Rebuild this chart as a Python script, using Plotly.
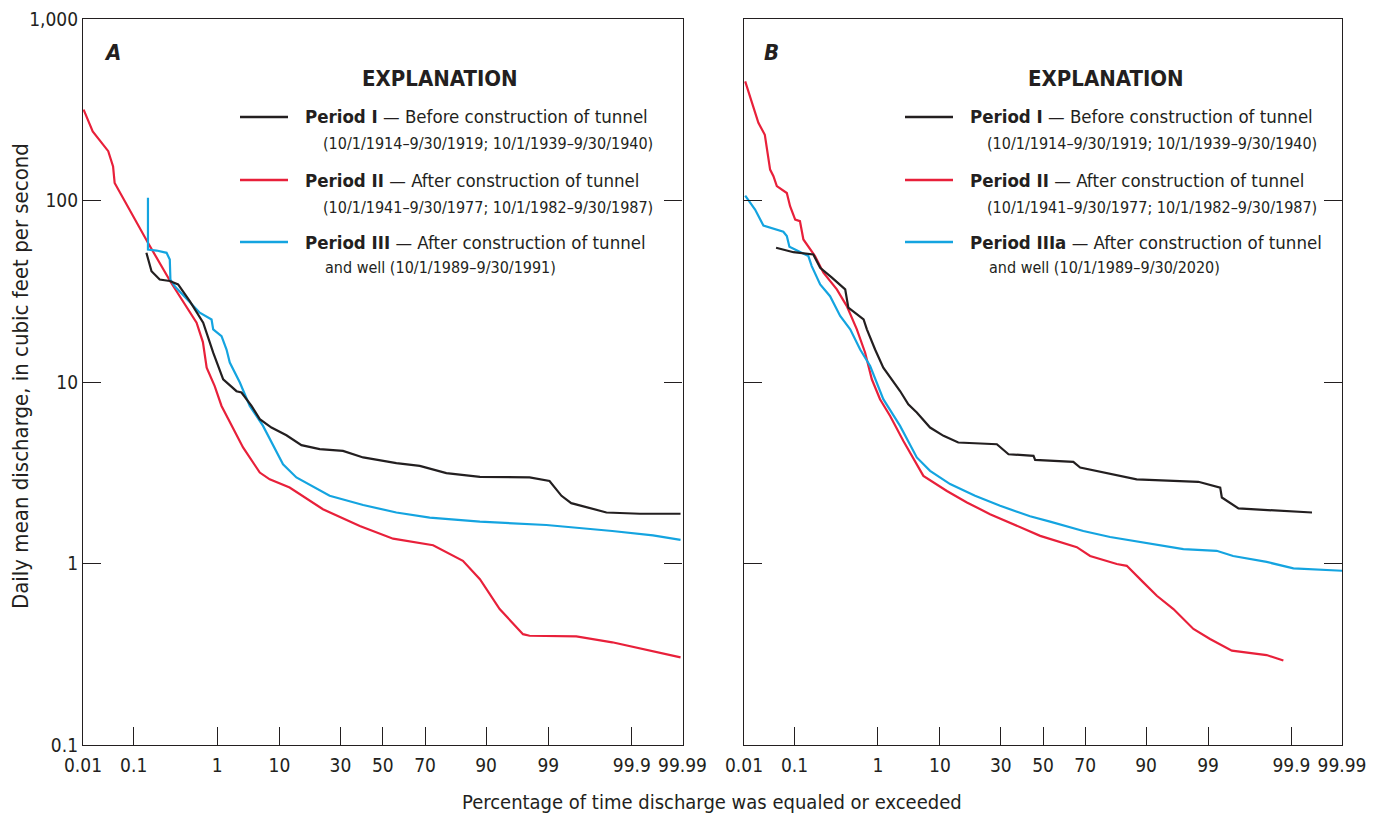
import math
import numpy as np
import plotly.graph_objects as go

# ---------------- data (exceedance percent, discharge cfs) ----------------
A_P1_PCT = [0.147, 0.171, 0.217, 0.289, 0.364, 0.498, 0.705, 0.906, 1.30, 1.72, 2.26, 2.75, 4.0, 5.35,
            7.84, 11.6, 15.65, 21.7, 31.1, 40.4, 56.7, 67.7, 78.5, 88.6, 97.79, 99.03, 99.28, 99.44,
            99.787, 99.929, 99.989]
A_P1_Q = [51.5, 40.8, 36.7, 36.0, 34.5, 27.9, 21.2, 14.5, 10.35, 9.6, 8.9, 8.75, 7.38, 6.24,
          5.61, 5.09, 4.49, 4.27, 4.17, 3.84, 3.57, 3.45, 3.15, 3.0, 2.98, 2.85, 2.36, 2.15,
          1.91, 1.88, 1.88]

A_P2_PCT = [0.0103, 0.016, 0.033, 0.041, 0.044, 0.154, 0.30, 0.595, 0.70, 0.77, 0.94, 1.21, 2.92, 5.35,
            7.42, 12.4, 22.9, 38.8, 55.1, 73.4, 84.0, 88.6, 93.45, 97.14, 97.79, 99.51, 99.82, 99.989]
A_P2_Q = [317, 240, 187, 154, 125, 58.5, 35.2, 21.2, 16.6, 12.0, 9.5, 7.38, 4.36, 3.17,
          2.91, 2.62, 1.99, 1.61, 1.37, 1.26, 1.035, 0.82, 0.561, 0.408, 0.40, 0.397, 0.368, 0.304]

A_P3_PCT = [0.154, 0.154, 0.198, 0.264, 0.289, 0.294, 0.332, 0.498, 0.646, 0.87, 0.906, 1.21, 1.50, 1.72,
            2.58, 3.75, 5.97, 10.8, 14.2, 25.5, 40.4, 56.7, 72.0, 88.6, 98.91, 99.82, 99.960, 99.989]
A_P3_Q = [103.5, 53.7, 53.0, 51.5, 47.3, 36.7, 33.7, 27.4, 24.1, 22.1, 19.5, 17.9, 15.1, 12.8,
          9.93, 7.38, 5.73, 3.52, 2.98, 2.36, 2.10, 1.91, 1.79, 1.70, 1.63, 1.51, 1.43, 1.35]

B_P1_PCT = [0.045, 0.0955, 0.176, 0.215, 0.30, 0.432, 0.47, 0.70, 0.761, 0.934, 1.27, 2.54, 3.48, 4.73,
            7.38, 10.8, 14.6, 28.3, 33.4, 45.3, 46.1, 64.7, 67.8, 78.0, 87.8, 98.47, 99.26, 99.29,
            99.54, 99.959]
B_P1_Q = [54.9, 51.9, 50.4, 42.6, 37.6, 32.4, 25.7, 22.1, 19.5, 15.1, 12.0, 8.92, 7.54, 6.79,
          5.61, 5.05, 4.64, 4.54, 4.00, 3.92, 3.72, 3.63, 3.38, 3.17, 2.91, 2.82, 2.62, 2.31,
          2.01, 1.91]

B_P2_PCT = [0.0106, 0.020, 0.027, 0.0344, 0.040, 0.0465, 0.072, 0.0828, 0.102, 0.118, 0.131, 0.152,
            0.185, 0.236, 0.344, 0.451, 0.588, 0.728, 0.861, 1.10, 1.70, 2.89, 5.93, 11.6, 17.2,
            25.5, 34.1, 48.6, 66.3, 72.1, 82.07, 85.13, 89.4, 92.83, 95.93, 97.19, 98.12, 99.046,
            99.452, 99.79, 99.872]
B_P2_Q = [453, 268, 230, 148, 136, 120, 110, 93, 78.5, 76.9, 61.0, 56.1,
          49.4, 40.0, 32.4, 26.2, 19.5, 14.5, 10.35, 8.04, 6.50, 4.73, 3.04, 2.51, 2.17,
          1.87, 1.68, 1.42, 1.23, 1.10, 0.993, 0.971, 0.787, 0.664, 0.561, 0.494, 0.436, 0.384,
          0.331, 0.313, 0.292]

B_P3_PCT = [0.0106, 0.0171, 0.0253, 0.062, 0.072, 0.0805, 0.152, 0.168, 0.215, 0.285, 0.377, 0.494,
            0.641, 0.826, 1.27, 2.54, 4.73, 7.38, 12.4, 19.9, 29.7, 43.6, 53.5, 69.2, 79.8, 89.4,
            97.19, 99.19, 99.47, 99.79, 99.908, 99.990]
B_P3_Q = [106.5, 89.1, 72.8, 67.3, 63.7, 55.6, 49.4, 43.5, 34.5, 29.7, 23.1, 19.5,
          15.1, 12.25, 8.04, 5.73, 3.84, 3.24, 2.74, 2.36, 2.08, 1.82, 1.70, 1.51, 1.40, 1.31,
          1.20, 1.175, 1.10, 1.02, 0.94, 0.912]

X_TICK_LABELS = ["0.01", "0.1", "1", "10", "30", "50", "70", "90", "99", "99.9", "99.99"]
X_TICK_VALUES = [0.01, 0.1, 1, 10, 30, 50, 70, 90, 99, 99.9, 99.99]
Y_TICK_VALUES = [0.1, 1, 10, 100, 1000]
Y_TICK_LABELS = ["0.1", "1", "10", "100", "1,000"]

# ---------------- probability scale ----------------
def ppf(q):
    lo, hi = -12.0, 12.0
    for _ in range(90):
        mid = 0.5 * (lo + hi)
        if 0.5 * (1 + math.erf(mid / math.sqrt(2))) < q:
            lo = mid
        else:
            hi = mid
    return 0.5 * (lo + hi)

# where the labelled ticks sit on the printed probability axis
TICK_AXIS_POS = [0.01, 0.1, 2, 10, 30, 50, 70, 90, 98, 99.9, 99.99]
TRUE_Z = np.array([ppf(v / 100) for v in X_TICK_VALUES])
DRAWN_Z = np.array([ppf(v / 100) for v in TICK_AXIS_POS])

def xs(pcts):
    z = np.array([ppf(p / 100) for p in pcts])
    return np.interp(z, TRUE_Z, DRAWN_Z)

# ---------------- figure ----------------
W, H = 1385, 816
BLACK = "#231f20"
RED = "#e8203a"
BLUE = "#14a4e0"
FONT = "DejaVu Sans Condensed, Liberation Sans Narrow, sans-serif"

fig = go.Figure()
for (px, q, col, xa) in [
    (A_P2_PCT, A_P2_Q, RED, "x"), (A_P3_PCT, A_P3_Q, BLUE, "x"), (A_P1_PCT, A_P1_Q, BLACK, "x"),
    (B_P2_PCT, B_P2_Q, RED, "x2"), (B_P3_PCT, B_P3_Q, BLUE, "x2"), (B_P1_PCT, B_P1_Q, BLACK, "x2"),
]:
    fig.add_trace(go.Scatter(x=xs(px), y=q, mode="lines", line=dict(color=col, width=2.2),
                             xaxis=xa, yaxis="y" if xa == "x" else "y2", showlegend=False,
                             hoverinfo="skip"))

def px2x(p):
    return p / W

def py2y(p):
    return 1 - p / H

dom_a = [px2x(83), px2x(682.5)]
dom_b = [px2x(744), px2x(1342)]
dom_y = [py2y(745), py2y(19)]
xr = [ppf(0.0001), ppf(0.9999)]

xcommon = dict(range=xr, tickmode="array", tickvals=list(DRAWN_Z), ticktext=X_TICK_LABELS,
               ticks="inside", ticklen=18, tickwidth=1.2, tickcolor=BLACK, showline=True,
               linecolor=BLACK, linewidth=1.3, mirror=True, showgrid=False, zeroline=False,
               ticklabelstandoff=3,
               tickfont=dict(family=FONT, size=19, color=BLACK), automargin=False)
ycommon = dict(type="log", range=[-1, 3], tickmode="array", tickvals=Y_TICK_VALUES,
               ticktext=Y_TICK_LABELS, ticks="inside", ticklen=18, tickwidth=1.2, tickcolor=BLACK,
               showline=True, linecolor=BLACK, linewidth=1.3, mirror="ticks", showgrid=False,
               zeroline=False, tickfont=dict(family=FONT, size=19, color=BLACK), automargin=False)

fig.update_layout(
    width=W, height=H, margin=dict(l=0, r=0, t=0, b=0), paper_bgcolor="white",
    plot_bgcolor="white", font=dict(family=FONT, color=BLACK),
    xaxis=dict(domain=dom_a, anchor="y", **xcommon),
    xaxis2=dict(domain=dom_b, anchor="y2", **xcommon),
    yaxis=dict(domain=dom_y, anchor="x", **ycommon),
    yaxis2=dict(domain=dom_y, anchor="x2", showticklabels=False, **ycommon),
)

ann = []
def text(x, y, s, size=19, anchor="left", bold=False, italic=False, angle=0):
    if bold:
        s = "<b>" + s + "</b>"
    if italic:
        s = "<i>" + s + "</i>"
    ann.append(dict(x=px2x(x), y=py2y(y), xref="paper", yref="paper", text=s, showarrow=False,
                    xanchor=anchor, yanchor="middle", textangle=angle,
                    font=dict(family=FONT, size=size, color=BLACK)))

# axis titles
text(21, 376, "Daily mean discharge, in cubic feet per second", size=22, anchor="center", angle=-90)
text(712, 802, "Percentage of time discharge was equaled or exceeded", size=20, anchor="center")

# panel letters
text(102, 52, "A", size=22, bold=True, italic=True)
text(762, 52, "B", size=22, bold=True, italic=True)

shapes = []
legend_spec = [
    dict(cx=440, lx=(240, 288), tx=303, tx2=321, tx3=323,
         l3="<b>Period III</b> — After construction of tunnel", l3b="and well (10/1/1989–9/30/1991)"),
    dict(cx=1106, lx=(905, 953), tx=968, tx2=985, tx3=987,
         l3="<b>Period IIIa</b> — After construction of tunnel", l3b="and well (10/1/1989–9/30/2020)"),
]
for spec in legend_spec:
    text(spec["cx"], 79, "EXPLANATION", size=22, anchor="center", bold=True)
    rows = [
        (117, 143, BLACK, "<b>Period I</b> — Before construction of tunnel",
         "(10/1/1914–9/30/1919; 10/1/1939–9/30/1940)", spec["tx2"]),
        (180, 207, RED, "<b>Period II</b> — After construction of tunnel",
         "(10/1/1941–9/30/1977; 10/1/1982–9/30/1987)", spec["tx2"]),
        (242, 268, BLUE, spec["l3"], spec["l3b"], spec["tx3"]),
    ]
    for (y1, y2, col, s1, s2, x2) in rows:
        shapes.append(dict(type="line", xref="paper", yref="paper", x0=px2x(spec["lx"][0]),
                           x1=px2x(spec["lx"][1]), y0=py2y(y1), y1=py2y(y1),
                           line=dict(color=col, width=2.6)))
        text(spec["tx"], y1, s1, size=18.5)
        text(x2, y2, s2, size=16)

fig.update_layout(annotations=ann, shapes=shapes)
fig.write_html("out.html")
